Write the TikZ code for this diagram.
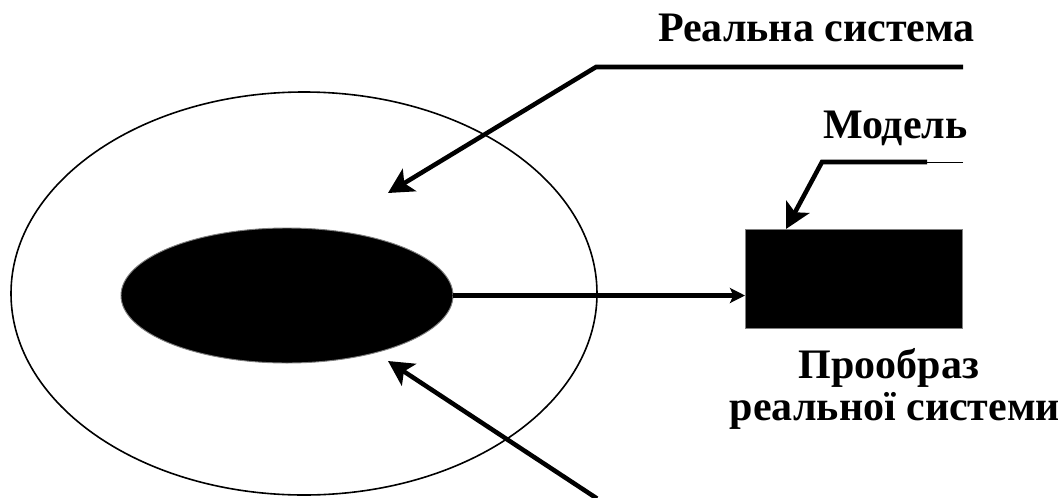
\documentclass[tikz,border=0pt]{standalone}
\usepackage{fontspec}
\setmainfont{Liberation Serif}
\usetikzlibrary{arrows.meta,shapes.geometric}
\begin{document}
\begin{tikzpicture}[x=0.75pt,y=-0.75pt,
  lbl/.style={font=\fontsize{31.5}{36}\selectfont\bfseries, inner sep=0pt, outer sep=0pt},
  thickline/.style={line width=3.4pt},
  thinline/.style={line width=0.75pt},
  bigarrow/.style={thickline,-{Stealth[length=18.75pt,width=19.5pt,inset=4.5pt]}},
  smallarrow/.style={thickline,-{Stealth[length=11.25pt,width=11.25pt,inset=2.5pt]}},
  blackshape/.style={fill=black, draw=gray, line width=0.7pt, inner sep=0pt, outer sep=0pt},
]
\useasboundingbox (0,0) rectangle (1058,497);
% outer ellipse (real system)
\node[ellipse, draw, line width=1.2pt, minimum width=439.5pt, minimum height=302.25pt, inner sep=0pt, outer sep=0pt] (outer) at (304,293.5) {};
% inner black ellipse
\node[ellipse, blackshape, minimum width=249pt, minimum height=101.25pt] (inner) at (287,295.5) {};
% black rectangle (model)
\node[rectangle, blackshape, minimum width=162.75pt, minimum height=74.25pt] (model) at (853.5,278.5) {};
% labels
\node[lbl, anchor=base west] (realsys) at (658,41) {Реальна система};
\node[lbl, anchor=base west] (modlbl) at (823,138) {Модель};
\node[lbl, anchor=base] (proobr1) at (889,378) {Прообраз};
\node[lbl, anchor=base] (proobr2) at (895,420) {реальної системи};
% helper coordinates
\coordinate (rEnd) at (963,67);
\coordinate (rBend) at (596,67);
\coordinate (rTip) at (388,193);
\coordinate (mEnd) at (963,162);
\coordinate (mMid) at (927,162);
\coordinate (mBend) at (822,162);
\coordinate (mTip) at (786,229);
\coordinate (bStart) at (597,498.5);
\coordinate (bTip) at (388,361);
% connectors
\draw[bigarrow] (rEnd) -- (rBend) -- (rTip);
\draw[thinline] (mEnd) -- (mMid);
\draw[bigarrow] (mMid) -- (mBend) -- (mTip);
\draw[bigarrow] (bStart) -- (bTip);
\draw[smallarrow] (inner.east) -- (inner.east -| model.west);
\end{tikzpicture}
\end{document}
